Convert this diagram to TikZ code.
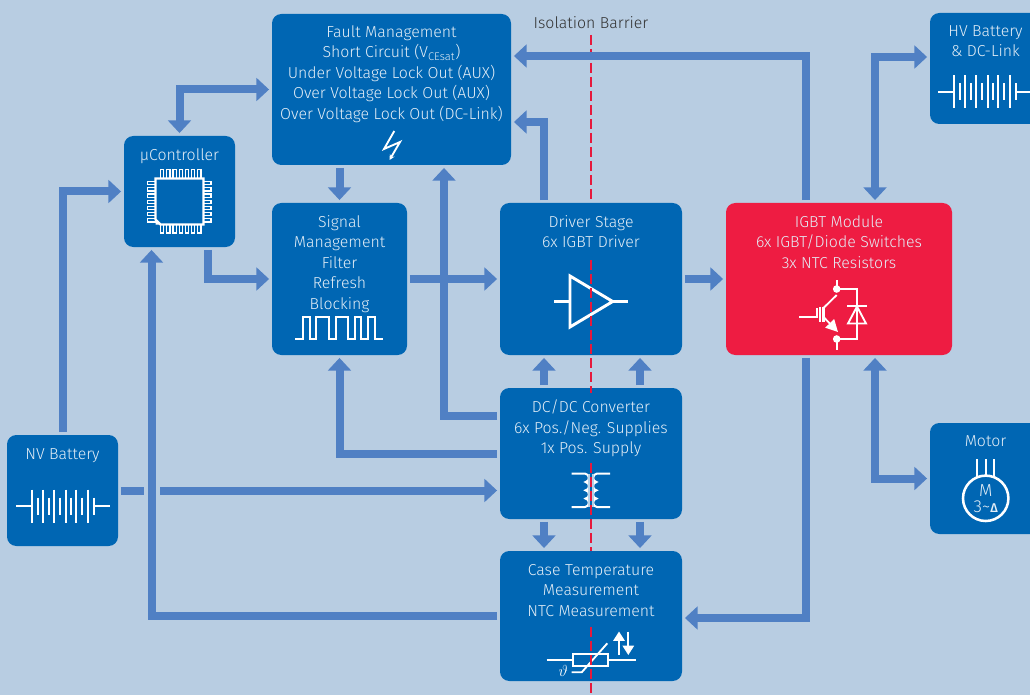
\documentclass[tikz,border=0pt]{standalone}
\usepackage{fontspec}
\setmainfont{Fira Sans}[UprightFont=* Light,BoldFont=* Medium]
\usetikzlibrary{arrows.meta,calc}
\definecolor{bgcol}{HTML}{B8CDE2}
\definecolor{boxblue}{HTML}{0066B3}
\definecolor{arrowblue}{HTML}{5080C4}
\definecolor{igbtred}{HTML}{EE1C42}
\definecolor{barred}{HTML}{E6193C}
\definecolor{txtlight}{HTML}{E4EEF7}
\tikzset{
  x=.75pt,y=-.75pt,
  blk/.style n args={2}{fill=boxblue,rounded corners=7pt,inner sep=0pt,outer sep=0pt,minimum width=#1*.75pt,minimum height=#2*.75pt},
  txt/.style={text=txtlight,font=\fontsize{11.9}{15.4}\selectfont,align=center,anchor=north,inner sep=0pt,execute at begin node={\strut}},
  conn/.style={draw=arrowblue,line width=6pt},
  ar/.style={conn,shorten >=2.2pt,-{Triangle[length=9.5pt,width=17pt]}},
  arb/.style={conn,shorten >=2.2pt,shorten <=2.2pt,{Triangle[length=9.5pt,width=17pt]}-{Triangle[length=9.5pt,width=17pt]}},
  stub/.style={conn,shorten <=2.2pt},
  icon/.style={draw=white,line width=1.7pt},
  thin icon/.style={draw=white,line width=1.4pt},
  barrier/.style={draw=barred,line width=1.7pt,dash pattern=on 7.5pt off 3pt},
  battery/.pic={
    \draw[icon] (0,0)--(16.3,0);
    \draw[icon] (78,0)--(94,0);
    \foreach \q in {16.3,27,38.3,49.7,60.3,71.7} \draw[icon] (\q,-16.5)--(\q,16.5);
    \foreach \q in {21.7,32.7,44,55,66.3,78} \draw[icon] (\q,-8.5)--(\q,8.5);
  }
}
\begin{document}
\begin{tikzpicture}
\path[use as bounding box] (0,0) rectangle (1030,695);
\clip (0,0) rectangle (1030,695);
\fill[bgcol] (0,0) rectangle (1030,695);

% Blocks
\node[blk={239}{151}] (fault) at (391.5,89.5) {};
\node[blk={111}{111}] (uc) at (179.5,191.5) {};
\node[blk={135}{152}] (signal) at (339.5,279) {};
\node[blk={182}{152}] (driver) at (591,279) {};
\node[blk={226}{152},fill=igbtred] (igbt) at (839,279) {};
\node[blk={120}{111}] (hv) at (990,68.5) {};
\node[blk={120}{111}] (motor) at (990,478.5) {};
\node[blk={111}{111}] (nv) at (62.5,490.5) {};
\node[blk={182}{131}] (dcdc) at (591,453.5) {};
\node[blk={182}{130}] (case) at (591,616) {};

% Barrier, upper part (runs beneath the connectors)
\coordinate (barTop) at (591,35);
\draw[barrier] (barTop) -- (driver.north);

% Connectors
\draw[arb] (uc.north) |- (fault.west);
\draw[ar,shorten <=2.2pt] (nv.north) |- (uc.west);
\draw[ar,shorten <=2.2pt] ([shift={(28,0)}]uc.south) |- (signal.west);
\draw[ar,shorten <=2.2pt] (fault.south -| signal.north) -- (signal.north);
\draw[ar,shorten <=2.2pt] (signal.east) -- (driver.west);
\draw[ar,shorten <=2.2pt] ([shift={(0,-38)}]dcdc.west) -| ([shift={(52.5,0)}]fault.south);
\draw[ar,shorten <=2.2pt] (dcdc.west) -| (signal.south);
\draw[ar,shorten <=2.2pt] (case.west) -| ([shift={(-28,0)}]uc.south);
\coordinate (nvBreakA) at (143.5,490.5);
\coordinate (nvBreakB) at (160,490.5);
\draw[stub] (nv.east) -- (nvBreakA);
\draw[ar] (nvBreakB) -- (dcdc.west |- nvBreakB);
\draw[ar,shorten <=2.2pt] ([shift={(-47,0)}]driver.north) |- ([shift={(0,32.5)}]fault.east);
\draw[ar,shorten <=2.2pt] ([shift={(-33,0)}]igbt.north) |- ([shift={(0,-33.5)}]fault.east);
\draw[ar,shorten <=2.2pt] (driver.east) -- (igbt.west);
\draw[arb] ([shift={(36,0)}]igbt.north) |- ([shift={(0,-11.5)}]hv.west);
\draw[arb] ([shift={(36,0)}]igbt.south) |- (motor.west);
\draw[ar,shorten <=2.2pt] ([shift={(-33,0)}]igbt.south) |- ([shift={(0,2)}]case.east);
\draw[ar,shorten <=2.2pt] ([shift={(-47,0)}]dcdc.north) -- ([shift={(-47,0)}]driver.south);
\draw[ar,shorten <=2.2pt] ([shift={(49,0)}]dcdc.north) -- ([shift={(49,0)}]driver.south);
\draw[ar,shorten <=2.2pt] ([shift={(-47,0)}]dcdc.south) -- ([shift={(-47,0)}]case.north);
\draw[ar,shorten <=2.2pt] ([shift={(49,0)}]dcdc.south) -- ([shift={(49,0)}]case.north);

% Texts
\node[txt,text=black!80] (tbar) at (591,13.6) {Isolation Barrier};
\node[txt] (tfault) at (391.5,25.1) {Fault Management\\Short Circuit (V\textsubscript{CEsat})\\Under Voltage Lock Out (AUX)\\Over Voltage Lock Out (AUX)\\Over Voltage Lock Out (DC-Link)};
\node[txt] (tuc) at (179.5,146.3) {µController};
\node[txt] (tsignal) at (339.5,215) {Signal\\Management\\Filter\\Refresh\\Blocking};
\node[txt] (tdriver) at (591,215) {Driver Stage\\6x IGBT Driver};
\node[txt] (tigbt) at (839,215) {IGBT Module\\6x IGBT/Diode Switches\\3x NTC Resistors};
\node[txt] (thv) at (985.5,25.1) {HV Battery\\\& DC-Link};
\node[txt] (tmotor) at (985.5,432.3) {Motor};
\node[txt] (tnv) at (62.5,444.6) {NV Battery};
\node[txt] (tdcdc) at (591,399.6) {DC/DC Converter\\6x Pos./Neg. Supplies\\1x Pos. Supply};
\node[txt] (tcase) at (591,564) {Case Temperature\\Measurement\\NTC Measurement};

% Icons
% lightning
\draw[thin icon,-{Stealth[length=4pt,width=4pt]}] (394.3,131) -- (384,149) -- (400,142) -- (389.5,160);
% batteries
\pic at (16,506) {battery};
\pic at (938,91.7) {battery};
% chip
\foreach \q in {0,...,6}{
  \draw[draw=white,line width=.8pt,fill=boxblue] (160.6+\q*6.2,169.5) rectangle ++(3.2,9);
  \draw[draw=white,line width=.8pt,fill=boxblue] (160.6+\q*6.2,224) rectangle ++(3.2,9);
  \draw[draw=white,line width=.8pt,fill=boxblue] (147.5,181.6+\q*6.2) rectangle ++(8,3.2);
  \draw[draw=white,line width=.8pt,fill=boxblue] (203,181.6+\q*6.2) rectangle ++(8,3.2);
}
\draw[icon,fill=boxblue] (155.5,178.5) -- (203.5,178.5) -- (203.5,224.5) -- (160.5,224.5) -- (155.5,219.5) -- cycle;
\fill[white] (155.5,219.5) -- (160.5,224.5) -- (155.5,224.5) -- cycle;
% square wave
\draw[icon,line join=miter] (295,339) -- (303,339) -- (303,317) -- (310,317) -- (310,339) -- (316,339) -- (316,317) -- (329,317) -- (329,339) -- (336,339) -- (336,317) -- (348,317) -- (348,339) -- (355,339) -- (355,317) -- (361,317) -- (361,339) -- (368,339) -- (368,317) -- (375,317) -- (375,339) -- (383,339);
% amplifier
\draw[icon,line width=2.2pt,line join=miter] (570,276) -- (570,327) -- (612.7,301.5) -- cycle;
\draw[icon] (554,301.5) -- (570,301.5);
\draw[icon] (612.7,301.5) -- (628,301.5);
% igbt
\fill[white] (836.7,289) circle (3.8);
\fill[white] (836.7,339) circle (3.8);
\draw[thin icon] (836.7,280) -- (836.7,289) -- (857,289) -- (857,339) -- (836.7,339) -- (836.7,350);
\draw[thin icon] (799,317.3) -- (816.7,317.3) -- (816.7,308.3);
\draw[icon,line width=1.5pt] (820,306.5) -- (820,322);
\draw[icon,line width=1.6pt] (823.5,306.5) -- (823.5,322);
\draw[thin icon] (823.5,308) -- (836.7,295);
\draw[thin icon,-{Triangle[length=9pt,width=9pt]}] (823.5,317) -- (838,332);
\draw[thin icon] (847.3,305.7) -- (866.7,305.7);
\draw[thin icon,line join=miter] (857,306.5) -- (866,323.5) -- (848,323.5) -- cycle;
% transformer
\draw[icon,line width=1.5pt] (571.7,473.6) -- (585,473.6)
  .. controls (590,473.6) and (590,482) .. (585.5,482)
  .. controls (590,482) and (590,490.3) .. (585.5,490.3)
  .. controls (590,490.3) and (590,498.6) .. (585.5,498.6)
  .. controls (590,498.6) and (590,507) .. (585,507) -- (571.7,507);
\draw[icon,line width=1.5pt] (610,473.6) -- (597,473.6)
  .. controls (592,473.6) and (592,482) .. (596.5,482)
  .. controls (592,482) and (592,490.3) .. (596.5,490.3)
  .. controls (592,490.3) and (592,498.6) .. (596.5,498.6)
  .. controls (592,498.6) and (592,507) .. (597,507) -- (610,507);
\draw[draw=txtlight!80!boxblue,line width=1pt] (589,474) -- (589,507);
\draw[draw=txtlight!80!boxblue,line width=1pt] (593,474) -- (593,507);
% motor
\draw[icon,line width=1.9pt] (985.7,498.3) circle (22.7);
\draw[thin icon] (977.3,459) -- (977.3,477);
\draw[thin icon] (985.7,459) -- (985.7,475.5);
\draw[thin icon] (994,459) -- (994,477);
\node[txt,font=\fontsize{13}{12}\selectfont] (tmot2) at (985.7,484.5) {M\\3\textasciitilde{\fontsize{9.5}{9}\selectfont\bfseries Δ}};
% thermistor
\draw[thin icon] (546.7,660) -- (573.3,660);
\draw[thin icon] (608.3,660) -- (635.7,660);
\draw[thin icon] (573.3,654.3) rectangle (608.3,666);
\draw[thin icon] (607.3,643.3) -- (581.7,672.3) -- (571.7,672.3);
\node[text=white,inner sep=0pt,font=\fontsize{13}{14}\selectfont] (ttheta) at (563.3,671) {$\vartheta$};
\draw[thin icon,-{Triangle[length=7pt,width=8.5pt]}] (619,655) -- (619,631.5);
\draw[thin icon,-{Triangle[length=7pt,width=8.5pt]}] (628.3,631.5) -- (628.3,655);

% Barrier, over the blocks
\draw[barrier] (591,260) -- (591,393);
\draw[barrier] (591,463) -- (591,551);
\draw[barrier] (591,627) -- (591,695);
\end{tikzpicture}
\end{document}
